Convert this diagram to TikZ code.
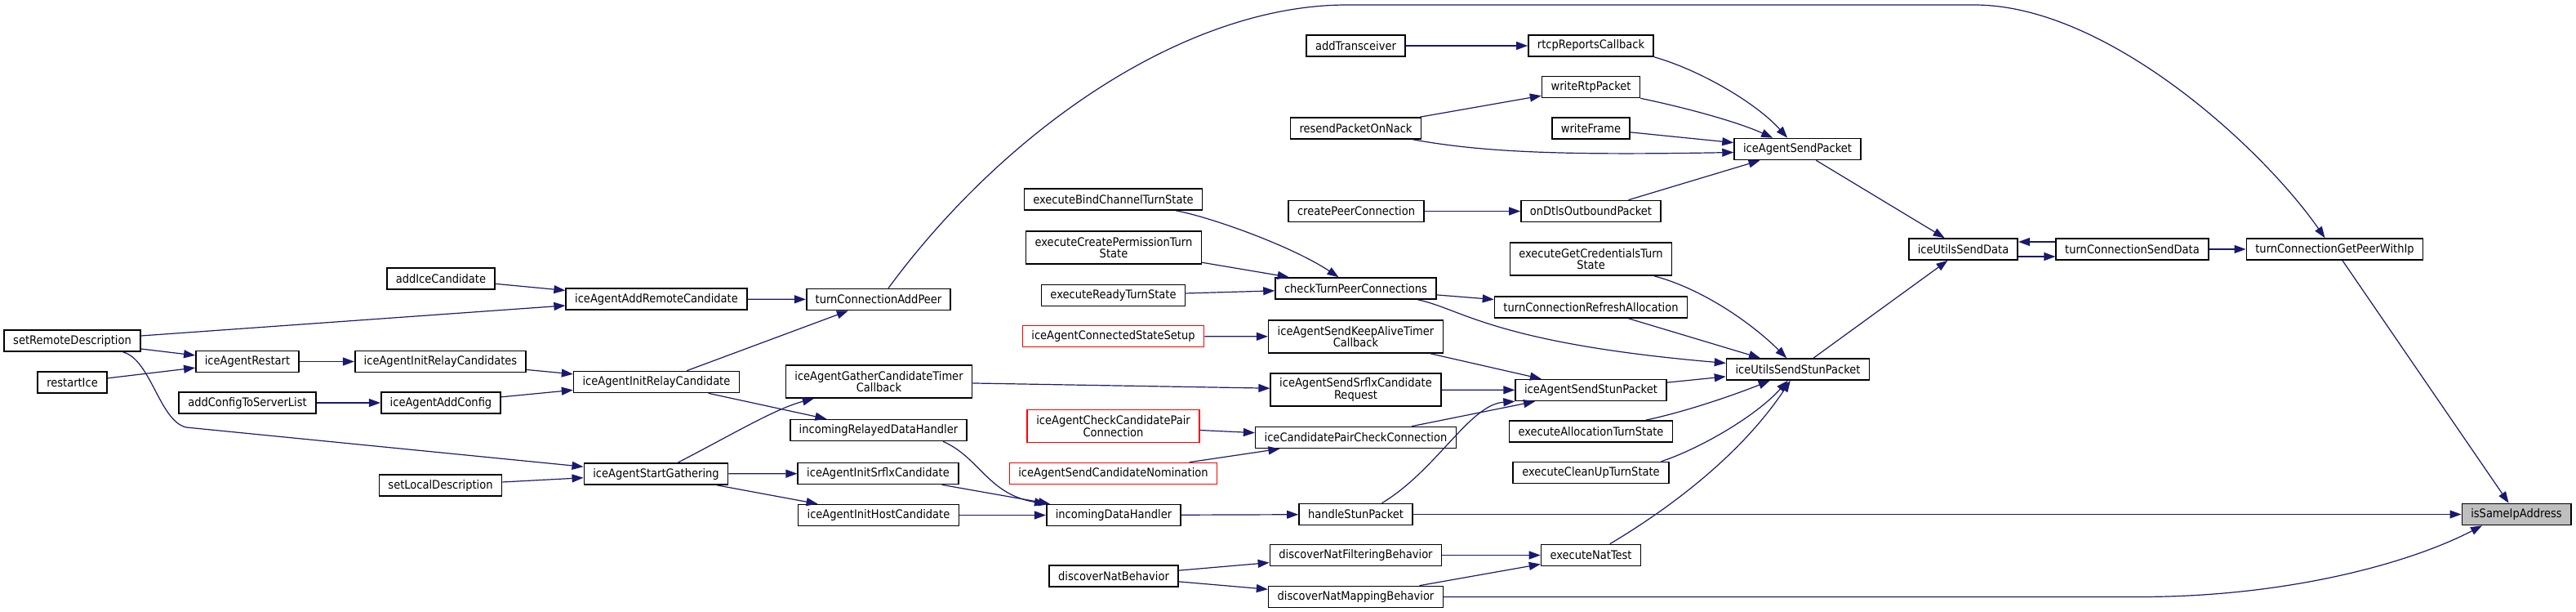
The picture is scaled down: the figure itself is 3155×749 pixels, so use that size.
\documentclass[tikz,border=0pt]{standalone}
\usepackage{fontspec}
\setmainfont{DejaVu Sans Condensed}
\usetikzlibrary{arrows.meta}
\definecolor{edgeblue}{HTML}{191970}
\tikzset{
  fn/.style={draw=black, line width=0.8pt, fill=white, inner xsep=5.5pt, inner ysep=0pt,
    minimum height=13pt, align=center, font=\fontsize{7.25}{7.2}\selectfont},
  fntwo/.style={fn, minimum height=20pt},
  fnred/.style={fn, draw=red},
  fnredtwo/.style={fntwo, draw=red},
  fnroot/.style={fn, fill=black!25},
  call/.style={edgeblue, line width=0.6pt, -{Triangle[length=7pt,width=5pt]}},
}

\begin{document}
\begin{tikzpicture}[x=0.5pt, y=-0.5pt]
  \useasboundingbox (0,0) rectangle (3155,749);
  % callers, left part
  \node[fn] (remoteDesc) at (88.5,417) {setRemoteDescription};
  \node[fn] (restartIce) at (88.5,468) {restartIce};
  \node[fn] (agentRestart) at (303,442.5) {iceAgentRestart};
  \node[fn] (addCfgList) at (303,493) {addConfigToServerList};
  \node[fn] (addIceCand) at (540,341) {addIceCandidate};
  \node[fn] (initRelayCands) at (539.5,442.5) {iceAgentInitRelayCandidates};
  \node[fn] (addCfg) at (540,493) {iceAgentAddConfig};
  \node[fn] (localDesc) at (539.5,594) {setLocalDescription};
  \node[fn] (addRemoteCand) at (804,366) {iceAgentAddRemoteCandidate};
  \node[fn] (initRelayCand) at (804,467.5) {iceAgentInitRelayCandidate};
  \node[fn] (startGather) at (803.5,580) {iceAgentStartGathering};
  \node[fn] (addPeer) at (1076,366.5) {turnConnectionAddPeer};
  \node[fntwo] (gatherTimer) at (1076.5,467) {iceAgentGatherCandidateTimer\\Callback};
  \node[fn] (relayedData) at (1076,526.5) {incomingRelayedDataHandler};
  \node[fn] (initSrflx) at (1075.5,579.5) {iceAgentInitSrflxCandidate};
  \node[fn] (initHost) at (1076,630.5) {iceAgentInitHostCandidate};
  % middle column
  \node[fn] (bindCh) at (1363.5,244) {executeBindChannelTurnState};
  \node[fntwo] (createPerm) at (1364,303) {executeCreatePermissionTurn\\State};
  \node[fn] (readyTurn) at (1363.5,361.5) {executeReadyTurnState};
  \node[fnred] (connSetup) at (1363.5,411.5) {iceAgentConnectedStateSetup};
  \node[fnredtwo] (checkPair) at (1363.5,521.5) {iceAgentCheckCandidatePair\\Connection};
  \node[fnred] (sendNom) at (1363.5,579.5) {iceAgentSendCandidateNomination};
  \node[fn] (inData) at (1364,630.5) {incomingDataHandler};
  \node[fn] (natBeh) at (1364,705) {discoverNatBehavior};
  \node[fn] (addTrans) at (1660.5,56) {addTransceiver};
  \node[fn] (resendNack) at (1660.5,157) {resendPacketOnNack};
  \node[fn] (createPc) at (1661,258.5) {createPeerConnection};
  \node[fn] (checkTurn) at (1660.5,353) {checkTurnPeerConnections};
  \node[fntwo] (keepAlive) at (1660.5,412) {iceAgentSendKeepAliveTimer\\Callback};
  \node[fntwo] (srflxReq) at (1660.5,477) {iceAgentSendSrflxCandidate\\Request};
  \node[fn] (pairCheck) at (1660.5,535.5) {iceCandidatePairCheckConnection};
  \node[fn] (stunPkt) at (1660.5,629.5) {handleStunPacket};
  \node[fn] (natFilter) at (1660.5,679.5) {discoverNatFilteringBehavior};
  \node[fn] (natMap) at (1660.5,730.5) {discoverNatMappingBehavior};
  \node[fn] (rtcpCb) at (1948.5,56) {rtcpReportsCallback};
  \node[fn] (writeRtp) at (1948.5,106.5) {writeRtpPacket};
  \node[fn] (writeFrame) at (1948.5,157) {writeFrame};
  \node[fn] (dtlsOut) at (1948.5,258.5) {onDtlsOutboundPacket};
  \node[fntwo] (getCred) at (1948.5,317) {executeGetCredentialsTurn\\State};
  \node[fn] (refreshAlloc) at (1948.5,376) {turnConnectionRefreshAllocation};
  \node[fn] (agentStun) at (1948.5,477.5) {iceAgentSendStunPacket};
  \node[fn] (allocTurn) at (1948.5,528) {executeAllocationTurnState};
  \node[fn] (cleanUp) at (1948.5,578.5) {executeCleanUpTurnState};
  \node[fn] (natTest) at (1948.5,679.5) {executeNatTest};
  % right part
  \node[fn] (agentPkt) at (2201.5,182.5) {iceAgentSendPacket};
  \node[fn] (utilsStun) at (2202,452) {iceUtilsSendStunPacket};
  \node[fn] (utilsData) at (2404.5,305) {iceUtilsSendData};
  \node[fn] (turnData) at (2611.5,305) {turnConnectionSendData};
  \node[fn] (peerWithIp) at (2859.5,305) {turnConnectionGetPeerWithIp};
  \node[fnroot] (sameIp) at (3082,629.5) {isSameIpAddress};

  % calls
  \draw[call] (remoteDesc) -- (addRemoteCand);
  \draw[call] (remoteDesc) -- (agentRestart);
  \draw[call] ([xshift=31pt]remoteDesc.south) .. controls (185,440) and (195,515) .. (228,523) -- (startGather);
  \draw[call] (restartIce) -- (agentRestart);
  \draw[call] (agentRestart) -- (initRelayCands);
  \draw[call] (initRelayCands) -- (initRelayCand);
  \draw[call] (addCfgList) -- (addCfg);
  \draw[call] (addCfg) -- (initRelayCand);
  \draw[call] (addIceCand) -- (addRemoteCand);
  \draw[call] (localDesc) -- (startGather);
  \draw[call] (addRemoteCand) -- (addPeer);
  \draw[call] (initRelayCand) -- (addPeer);
  \draw[call] (initRelayCand) -- (relayedData);
  \draw[call] (startGather) .. controls (900,530) and (950,500) .. (gatherTimer);
  \draw[call] (startGather) -- (initSrflx);
  \draw[call] (startGather) -- (initHost);
  \draw[call] ([xshift=6pt]addPeer.north) .. controls (1230,160) and (1450,6) .. (1650,6) -- (2418,6)
    .. controls (2580,6) and (2770,180) .. ([xshift=-6pt]peerWithIp.north);
  \draw[call] (gatherTimer) -- (srflxReq);
  \draw[call] ([xshift=39.5pt]relayedData.south) .. controls (1200,560) and (1210,605) .. (inData.north west);
  \draw[call] (initSrflx) -- (inData);
  \draw[call] (initHost) -- (inData);
  \draw[call] (bindCh) .. controls (1480,265) and (1580,300) .. (checkTurn);
  \draw[call] (createPerm) -- (checkTurn);
  \draw[call] (readyTurn) -- (checkTurn);
  \draw[call] (connSetup) -- (keepAlive);
  \draw[call] (checkPair) -- (pairCheck);
  \draw[call] (sendNom) -- (pairCheck);
  \draw[call] (inData) -- (stunPkt);
  \draw[call] (natBeh) -- (natFilter);
  \draw[call] (natBeh) -- (natMap);
  \draw[call] (addTrans) -- (rtcpCb);
  \draw[call] (resendNack) -- (writeRtp);
  \draw[call] ([xshift=35pt]resendNack.south) .. controls (1820,187) and (1920,190) .. ([yshift=-2pt]agentPkt.west);
  \draw[call] (createPc) -- (dtlsOut);
  \draw[call] (checkTurn) -- (refreshAlloc);
  \draw[call] ([xshift=38pt]checkTurn.south) .. controls (1790,378) and (1830,420) .. (utilsStun);
  \draw[call] (keepAlive) -- (agentStun);
  \draw[call] (srflxReq) -- (agentStun);
  \draw[call] (pairCheck) -- (agentStun);
  \draw[call] ([xshift=16pt]stunPkt.north) .. controls (1760,575) and (1800,495) .. (agentStun.south west);
  \draw[call] (stunPkt) -- (sameIp);
  \draw[call] (natFilter) -- (natTest);
  \draw[call] (natMap) -- (natTest);
  \draw[call] (natMap) -- (2620,730.5) .. controls (2800,730.5) and (2950,690) .. ([xshift=-21pt]sameIp.south);
  \draw[call] (rtcpCb.south east) .. controls (2080,85) and (2150,125) .. (agentPkt);
  \draw[call] (writeRtp.south east) .. controls (2070,133) and (2130,150) .. (agentPkt);
  \draw[call] (writeFrame) -- (agentPkt);
  \draw[call] (dtlsOut) -- (agentPkt);
  \draw[call] (getCred) .. controls (2090,355) and (2150,400) .. (utilsStun);
  \draw[call] (refreshAlloc) -- (utilsStun);
  \draw[call] (agentStun) -- (utilsStun);
  \draw[call] (allocTurn) .. controls (2060,505) and (2120,485) .. (utilsStun);
  \draw[call] ([xshift=-5pt]cleanUp.north east) .. controls (2080,550) and (2150,510) .. (utilsStun);
  \draw[call] (natTest) .. controls (2040,625) and (2130,560) .. (utilsStun);
  \draw[call] (agentPkt) -- (utilsData);
  \draw[call] (utilsStun) -- (utilsData);
  \draw[call] ([yshift=-4.5pt]utilsData.east) -- ([yshift=-4.5pt]turnData.west);
  \draw[call] ([yshift=4.5pt]turnData.west) -- ([yshift=4.5pt]utilsData.east);
  \draw[call] (turnData) -- (peerWithIp);
  \draw[call] (peerWithIp) -- (sameIp);
\end{tikzpicture}
\end{document}
